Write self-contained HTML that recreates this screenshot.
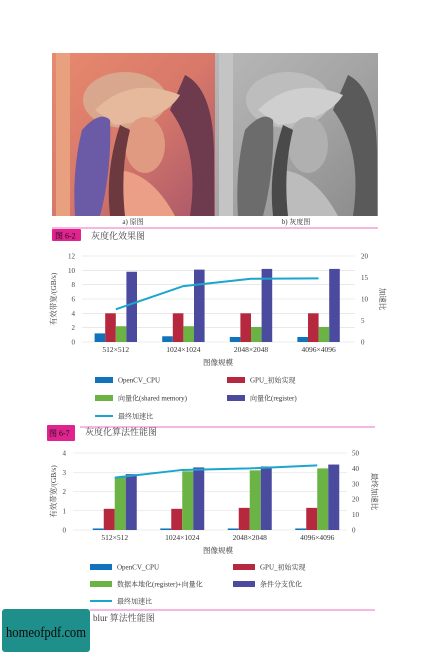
<!DOCTYPE html>
<html><head><meta charset="utf-8">
<style>
html,body{margin:0;padding:0;background:#fff;}
body{width:442px;height:653px;overflow:hidden;position:relative;font-family:"Liberation Serif","Noto Serif CJK SC",serif;}
svg{position:absolute;left:0;top:0;}
text{font-family:"Liberation Serif","Noto Serif CJK SC",serif;}
</style></head>
<body>
<svg id="page" width="442" height="653" viewBox="0 0 442 653">
  <defs>
    <linearGradient id="warm" x1="0" y1="0" x2="1" y2="1">
      <stop offset="0" stop-color="#e88a6e"/><stop offset="0.5" stop-color="#d7786a"/><stop offset="1" stop-color="#a8566a"/>
    </linearGradient>
    <linearGradient id="gray" x1="0" y1="0" x2="1" y2="1">
      <stop offset="0" stop-color="#b8b8b8"/><stop offset="0.5" stop-color="#a4a4a4"/><stop offset="1" stop-color="#8a8a8a"/>
    </linearGradient>
  </defs>
  <!-- original image -->
  <g>
    <rect x="52" y="53" width="163" height="163" fill="url(#warm)"/>
    <rect x="56" y="53" width="14" height="163" fill="#e9a07e"/>
    <path d="M185 75 Q215 90 214 160 L214 216 L190 216 Q200 150 170 110 Z" fill="#6e3a4e"/>
    <ellipse cx="125" cy="100" rx="42" ry="28" fill="#d9a68e"/>
    <path d="M95 110 Q130 75 180 95 Q165 120 115 125 Z" fill="#e6b89c"/>
    <path d="M82 130 Q100 110 110 120 Q112 170 100 216 L75 216 Q72 170 82 130 Z" fill="#6b5aa6"/>
    <ellipse cx="145" cy="145" rx="20" ry="28" fill="#e19a82"/>
    <path d="M115 170 Q150 170 175 216 L110 216 Z" fill="#ea9f86"/>
    <path d="M120 125 Q105 170 110 216 L125 216 Q120 170 130 130 Z" fill="#6c3a3e"/>
  </g>
  <!-- gray image -->
  <g>
    <rect x="215" y="53" width="163" height="163" fill="url(#gray)"/>
    <rect x="219" y="53" width="14" height="163" fill="#c4c4c4"/>
    <path d="M348 75 Q378 90 377 160 L377 216 L353 216 Q363 150 333 110 Z" fill="#5a5a5a"/>
    <ellipse cx="288" cy="100" rx="42" ry="28" fill="#bdbdbd"/>
    <path d="M258 110 Q293 75 343 95 Q328 120 278 125 Z" fill="#cfcfcf"/>
    <path d="M245 130 Q263 110 273 120 Q275 170 263 216 L238 216 Q235 170 245 130 Z" fill="#6c6c6c"/>
    <ellipse cx="308" cy="145" rx="20" ry="28" fill="#b0b0b0"/>
    <path d="M278 170 Q313 170 338 216 L273 216 Z" fill="#bcbcbc"/>
    <path d="M283 125 Q268 170 273 216 L288 216 Q283 170 293 130 Z" fill="#4a4a4a"/>
  </g>
  <text x="133" y="224" font-size="7" text-anchor="middle" fill="#333">a) 原图</text>
  <text x="296" y="224" font-size="7" text-anchor="middle" fill="#333">b) 灰度图</text>
  <line x1="52" y1="228" x2="378" y2="228" stroke="#f06fc0" stroke-width="1"/>
  <rect x="52" y="229" width="29" height="12" fill="#e0238f" rx="1"/>
  <text x="55" y="238.5" font-size="8" fill="#111" font-family="Liberation Sans, sans-serif">图 6-2</text>
  <text x="91" y="239" font-size="9" fill="#444">灰度化效果图</text>

  <g id="chart1"></g>

  <line x1="80" y1="427" x2="375" y2="427" stroke="#f06fc0" stroke-width="1"/>
  <rect x="47" y="425" width="28" height="16" fill="#e0238f" rx="1"/>
  <text x="49" y="436" font-size="8" fill="#111" font-family="Liberation Sans, sans-serif">图 6-7</text>
  <text x="85" y="435" font-size="9" fill="#444">灰度化算法性能图</text>

  <g id="chart2"></g>

  <line x1="90" y1="610" x2="375" y2="610" stroke="#f06fc0" stroke-width="1"/>
  <text x="93" y="621" font-size="9" fill="#444">blur 算法性能图</text>
  <rect x="2" y="609" width="88" height="43" rx="3" fill="#1f8f8c"/>
  <text x="46" y="637" font-size="15" text-anchor="middle" fill="#0a0a0a" font-family="DejaVu Sans, sans-serif" textLength="80" lengthAdjust="spacingAndGlyphs">homeofpdf.com</text>
</svg>
<script>
const NS='http://www.w3.org/2000/svg';
const colors=['#1273bd','#b5283e','#6ab344','#4a4a9e'];
const lineColor='#1aa6cf';

// Chart 1 data
const c1Categories=['512×512','1024×1024','2048×2048','4096×4096'];
const c1OpenCV=[1.2,0.8,0.7,0.7];
const c1GpuInit=[4,4,4,4];
const c1Shared=[2.2,2.2,2.1,2.1];
const c1Register=[9.8,10.1,10.2,10.2];
const c1Speedup=[7.6,13,14.7,14.8];
const c1LeftTicks=[0,2,4,6,8,10,12];
const c1RightTicks=[0,5,10,15,20];
const c1Legend=['OpenCV_CPU','GPU_初始实现','向量化(shared memory)','向量化(register)','最终加速比'];

// Chart 2 data
const c2Categories=['512×512','1024×1024','2048×2048','4096×4096'];
const c2OpenCV=[0.08,0.08,0.08,0.08];
const c2GpuInit=[1.1,1.1,1.15,1.15];
const c2Local=[2.75,3.05,3.1,3.2];
const c2Branch=[2.9,3.25,3.3,3.4];
const c2Speedup=[34,39,40,42];
const c2LeftTicks=[0,1,2,3,4];
const c2RightTicks=[0,10,20,30,40,50];
const c2Legend=['OpenCV_CPU','GPU_初始实现','数据本地化(register)+向量化','条件分支优化','最终加速比'];

function el(tag,attrs,parent,txt){const e=document.createElementNS(NS,tag);for(const k in attrs)e.setAttribute(k,attrs[k]);if(txt!==undefined)e.textContent=txt;parent.appendChild(e);return e;}

function draw(g,cfg){
  const yL=v=>cfg.y0-(v/cfg.lmax)*(cfg.y0-cfg.yTop);
  const yR=v=>cfg.y0-(v/cfg.rmax)*(cfg.y0-cfg.yTop);
  const xC=i=>cfg.xStart+cfg.step*(i+0.5);
  cfg.lTicks.forEach(t=>{
    const l=el('line',{x1:cfg.gx1,x2:cfg.gx2,y1:yL(t),y2:yL(t),stroke:'#dcdcdc','stroke-width':0.6},g);
    
    
    const tx=el('text',{x:cfg.lx,y:yL(t)+2.5,'font-size':7,'text-anchor':'end',fill:'#444'},g,String(t));
    
    
  });
  cfg.rTicks.forEach(t=>{
    const tx=el('text',{x:cfg.rx,y:yR(t)+2.5,'font-size':7,'text-anchor':'start',fill:'#444'},g,String(t));
    
    
  });
  const bw=cfg.bw;
  cfg.series.forEach((s,si)=>{
    s.forEach((v,i)=>{
      const x=xC(i)-2*bw+si*bw;
      const r=el('rect',{x:x,y:yL(v),width:bw,height:cfg.y0-yL(v),fill:colors[si]},g);
      
      
    });
  });
  const pts=cfg.speed.map((v,i)=>xC(i)+','+yR(v)).join(' ');
  const pl=el('polyline',{points:pts,fill:'none',stroke:lineColor,'stroke-width':2},g);
  
  
  cfg.cats.forEach((c,i)=>{
    const tx=el('text',{x:xC(i),y:cfg.y0+10,'font-size':7.5,'text-anchor':'middle',fill:'#333'},g,c);
    
    
  });
  const xt=el('text',{x:218,y:cfg.y0+23,'font-size':7.5,'text-anchor':'middle',fill:'#333'},g,'图像规模');
  
  
  const lt=el('text',{x:0,y:0,'font-size':7.5,'text-anchor':'middle',fill:'#333',transform:'translate('+cfg.ltx+','+(cfg.y0+cfg.yTop)/2+') rotate(-90)'},g,'有效带宽/(GB/s)');
  
  
  const rt=el('text',{x:0,y:0,'font-size':7.5,'text-anchor':'middle',fill:'#333',transform:'translate('+cfg.rtx+','+(cfg.y0+cfg.yTop)/2+') rotate(90)'},g,cfg.rtitle);
  
  
  cfg.legend.forEach((name,i)=>{
    const col=i%2, row=Math.floor(i/2);
    const sx=col?cfg.lx2:cfg.lx1, sy=cfg.ly+row*cfg.ldy;
    let sw;
    if(i<4){sw=el('rect',{x:sx,y:sy-3,width:cfg.sw,height:6,fill:colors[i]},g);}
    else{sw=el('line',{x1:sx,x2:sx+cfg.sw,y1:sy,y2:sy,stroke:lineColor,'stroke-width':2},g);}
    
    
    const tx=el('text',{x:sx+cfg.sw+5,y:sy+2.5,'font-size':7,fill:'#333'},g,name);
    
    
  });
}

draw(document.getElementById('chart1'),{
  y0:342,yTop:256,lmax:12,rmax:20,xStart:82,step:67.6,gx1:82,gx2:355,lx:75,rx:361,bw:10.6,
  series:[c1OpenCV,c1GpuInit,c1Shared,c1Register],names:['opencv','gpu-init','shared','register'],
  speed:c1Speedup,cats:c1Categories,lTicks:c1LeftTicks,rTicks:c1RightTicks,
  ltx:56,rtx:380,rtitle:'加速比',legend:c1Legend,lx1:95,lx2:227,ly:380,ldy:18,sw:18
});
draw(document.getElementById('chart2'),{
  y0:530,yTop:453,lmax:4,rmax:50,xStart:81,step:67.5,gx1:73,gx2:347,lx:66,rx:352,bw:11,
  series:[c2OpenCV,c2GpuInit,c2Local,c2Branch],names:['opencv','gpu-init','local-vector','branch'],
  speed:c2Speedup,cats:c2Categories,lTicks:c2LeftTicks,rTicks:c2RightTicks,
  ltx:56,rtx:372,rtitle:'最终加速比',legend:c2Legend,lx1:90,lx2:233,ly:567,ldy:17,sw:22
});
</script>
</body></html>
